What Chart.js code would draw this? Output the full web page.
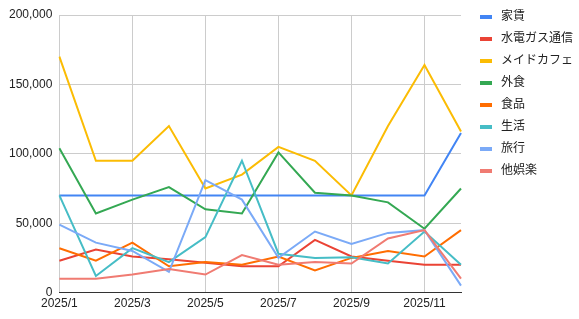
<!DOCTYPE html>
<html>
<head>
<meta charset="utf-8">
<script src="https://cdn.jsdelivr.net/npm/chart.js@4"></script>
<style>
    html, body { margin: 0; padding: 0; background: #fff; }
    #wrap { position: relative; width: 579px; height: 319px; }
    #legend { position: absolute; left: 480px; top: 4px; margin: 0; padding: 0; list-style: none;
        font: 12px 'Noto Sans CJK JP', sans-serif; color: #222; }
    #legend li { height: 22px; line-height: 22px; white-space: nowrap; }
    #legend .box { display: inline-block; width: 12px; height: 4px; vertical-align: middle; margin-right: 9px; }
</style>
</head>
<body>
<div id="wrap">
    <canvas id="chart" width="579" height="319"></canvas>
    <ul id="legend"></ul>
</div>
<script>
// Months (x axis)
const months = ['2025/1', '2025/2', '2025/3', '2025/4', '2025/5', '2025/6',
    '2025/7', '2025/8', '2025/9', '2025/10', '2025/11', '2025/12'];

// Series values
const rent      = [70000, 70000, 70000, 70000, 70000, 70000, 70000, 70000, 70000, 70000, 70000, 115000];
const utilities = [23000, 31000, 26000, 24000, 21500, 19000, 19000, 38000, 26000, 23000, 20000, 20000];
const maidCafe  = [170000, 95000, 95000, 120000, 75000, 85000, 105000, 95000, 70000, 120000, 164000, 116000];
const eatingOut = [104000, 57000, 67000, 76000, 60000, 57000, 101000, 72000, 70000, 65000, 46000, 75000];
const groceries = [32000, 23000, 36000, 19000, 22000, 20000, 26000, 16000, 25000, 30000, 26000, 45000];
const living    = [70000, 12000, 32000, 22000, 40000, 95000, 28000, 25000, 25500, 21000, 44000, 20000];
const travel    = [49000, 36000, 30000, 15000, 81000, 67000, 25000, 44000, 35000, 43000, 45000, 5000];
const otherFun  = [10000, 10000, 13000, 17000, 13000, 27000, 20000, 22000, 21000, 39000, 45000, 10000];

const yTicks = [0, 50000, 100000, 150000, 200000];

const seriesNames = ['家賃', '水電ガス通信', 'メイドカフェ', '外食', '食品', '生活', '旅行', '他娯楽'];
const seriesData = [rent, utilities, maidCafe, eatingOut, groceries, living, travel, otherFun];
const seriesColors = ['#4285f4', '#ea4335', '#fbbc04', '#34a853', '#ff6d01', '#46bdc6', '#7baaf7', '#f07b72'];

const tickFont = { family: 'Liberation Sans, Arial, sans-serif', size: 12 };

const ctx = document.getElementById('chart').getContext('2d');

new Chart(ctx, {
    type: 'line',
    data: {
        labels: months,
        datasets: seriesNames.map((name, i) => ({
            label: name,
            data: seriesData[i],
            borderColor: seriesColors[i],
            backgroundColor: seriesColors[i],
            borderWidth: 2,
            pointRadius: 0,
            tension: 0,
            order: seriesNames.length - i // later series drawn on top
        }))
    },
    options: {
        responsive: false,
        animation: false,
        layout: { padding: { left: 2, right: 118, top: 15, bottom: 4 } },
        scales: {
            x: {
                offset: false,
                grid: {
                    color: c => (c.index % 2 === 0 ? '#cccccc' : 'rgba(0,0,0,0)'),
                    drawTicks: false
                },
                border: { color: '#333333', width: 1 },
                ticks: {
                    autoSkip: false,
                    maxRotation: 0,
                    padding: 4,
                    color: '#222',
                    font: tickFont,
                    callback: function (val, idx) {
                        return idx % 2 === 0 ? this.getLabelForValue(val) : '';
                    }
                }
            },
            y: {
                min: yTicks[0],
                max: yTicks[yTicks.length - 1],
                grid: { color: '#cccccc', drawTicks: false },
                border: { display: false },
                afterBuildTicks: axis => { axis.ticks = yTicks.map(v => ({ value: v })); },
                ticks: {
                    padding: 7,
                    color: '#222',
                    font: tickFont,
                    callback: v => v.toLocaleString('en-US')
                }
            }
        },
        plugins: {
            tooltip: { enabled: false },
            legend: { display: false }
        }
    }
});

// Legend on the right, in series order
document.getElementById('legend').innerHTML = seriesNames.map((name, i) => `
    <li><span class="box" style="background:${seriesColors[i]}"></span>${name}</li>
`).join('');
</script>
</body>
</html>
